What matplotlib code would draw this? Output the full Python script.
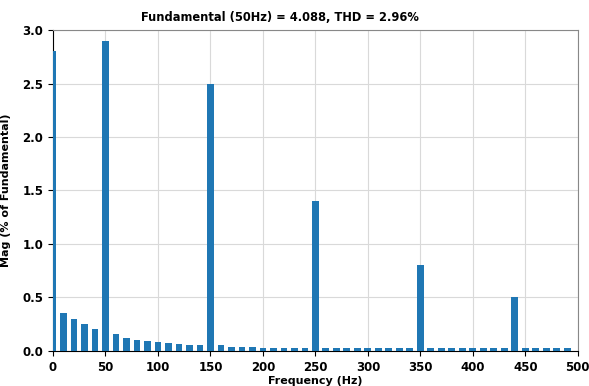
import matplotlib
matplotlib.use("Agg")
import matplotlib.pyplot as plt
import numpy as np

# harmonic spectrum, 10 Hz bins
freqs = np.arange(0, 500, 10)
mags = [2.80, 0.35, 0.30, 0.25, 0.20, 2.90, 0.155, 0.125, 0.10, 0.094,
        0.085, 0.072, 0.063, 0.055, 0.055, 2.50, 0.055, 0.04, 0.037, 0.035,
        0.03, 0.025, 0.025, 0.025, 0.025, 1.40, 0.025, 0.025, 0.025, 0.025,
        0.025, 0.025, 0.025, 0.025, 0.025, 0.80, 0.025, 0.025, 0.025, 0.025,
        0.025, 0.025, 0.025, 0.025, 0.50, 0.025, 0.025, 0.025, 0.025, 0.025]
fund_freq = 50
fund_mag = 4.088
thd = 2.96

plt.rcParams['font.weight'] = 'bold'
fig = plt.figure(figsize=(5.89, 3.86), dpi=100)
ax = fig.add_axes([0.09, 0.091, 0.891, 0.831])

ax.bar(freqs, mags, width=6.5, color='#1f77b4', zorder=3)
ax.set_xlim(0, 500)
ax.set_ylim(0, 3.0)
ax.set_xticks(np.arange(0, 501, 50))
ax.set_yticks(np.arange(0, 3.01, 0.5))
ax.grid(True, color='#d9d9d9', linewidth=0.8, zorder=0)
ax.tick_params(labelsize=8.5, direction='out', length=3.5)
for s in ['top', 'right']:
    ax.spines[s].set_color('#888888')

title = "Fundamental (%dHz) = %.3f, THD = %.2f%%" % (fund_freq, fund_mag, thd)
fig.text(0.476, 0.954, title, ha='center', va='center',
         fontsize=9.2, fontweight='bold',
         family=['DejaVu Sans'], fontstretch='condensed')
ax.set_xlabel("Frequency (Hz)", fontsize=8, fontweight='bold', labelpad=2)
ax.set_ylabel("Mag (% of Fundamental)", fontsize=8, fontweight='bold', labelpad=8)

fig.savefig("out.png", dpi=100)
